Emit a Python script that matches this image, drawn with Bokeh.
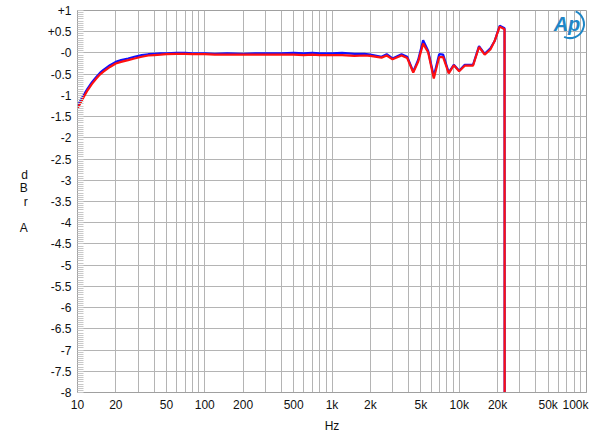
import numpy as np
from bokeh.plotting import figure
from bokeh.models import FixedTicker, Label
from bokeh.embed import file_html
from bokeh.resources import INLINE

# ---- data ----
freq_hz = [10, 11, 12, 13, 14, 15, 16, 18, 20, 22, 25, 28, 32, 36, 40, 45, 50, 60, 70, 80,
           90, 100, 120, 150, 200, 250, 300, 400, 500, 600, 700, 800, 1000, 1200, 1500,
           1800, 2000, 2450, 2690, 2990, 3520, 3900, 4350, 4760, 5200, 5690, 6310, 6950,
           7470, 8270, 9060, 9980, 11050, 12830, 14300, 15850, 17570, 18970, 20780, 22700,
           22900]

left_dbr = [-1.25, -1.03, -0.84, -0.69, -0.57, -0.47, -0.40, -0.29, -0.21, -0.17, -0.13,
            -0.09, -0.05, -0.03, -0.02, -0.01, -0.01, 0.0, 0.0, -0.01, -0.01, -0.01, -0.02,
            -0.01, -0.02, -0.01, -0.01, -0.01, 0.0, -0.01, 0.0, -0.01, -0.01, 0.0, -0.02,
            -0.02, -0.04, -0.09, -0.03, -0.13, -0.03, -0.09, -0.44, -0.16, 0.30, 0.05,
            -0.55, -0.03, -0.04, -0.46, -0.28, -0.42, -0.28, -0.28, 0.16, -0.02, 0.11,
            0.28, 0.64, 0.58, -40.0]

right_dbr = [-1.31, -1.08, -0.88, -0.73, -0.61, -0.51, -0.44, -0.33, -0.25, -0.21, -0.17,
             -0.13, -0.09, -0.06, -0.05, -0.04, -0.03, -0.02, -0.02, -0.03, -0.03, -0.03,
             -0.04, -0.04, -0.04, -0.04, -0.04, -0.04, -0.04, -0.05, -0.04, -0.05, -0.05,
             -0.05, -0.07, -0.06, -0.07, -0.11, -0.06, -0.15, -0.06, -0.12, -0.46, -0.20,
             0.22, 0.02, -0.60, -0.10, -0.10, -0.48, -0.29, -0.43, -0.30, -0.30, 0.14,
             -0.04, 0.08, 0.28, 0.62, 0.56, -40.0]

x_tick_values = [10, 20, 50, 100, 200, 500, 1000, 2000, 5000, 10000, 20000, 50000, 100000]
x_tick_labels = ["10", "20", "50", "100", "200", "500", "1k", "2k", "5k", "10k", "20k",
                 "50k", "100k"]
# the reference pulls its last label leftwards so that it fits inside the chart
x_label_positions = [10, 20, 50, 100, 200, 500, 1000, 2000, 5000, 10000, 20000, 50000, 82000]

y_tick_values = [1, 0.5, 0, -0.5, -1, -1.5, -2, -2.5, -3, -3.5, -4, -4.5, -5, -5.5, -6,
                 -6.5, -7, -7.5, -8]
y_tick_labels = ["+1", "+0.5", "-0", "-0.5", "-1", "-1.5", "-2", "-2.5", "-3", "-3.5", "-4",
                 "-4.5", "-5", "-5.5", "-6", "-6.5", "-7", "-7.5", "-8"]

FONT = "Liberation Sans"

p = figure(width=596, height=435, x_axis_type="log", x_range=(10, 100000),
           y_range=(-8, 1), output_backend="svg", toolbar_location=None,
           min_border_left=77, min_border_right=10, min_border_top=10,
           min_border_bottom=42)
p.background_fill_color = "white"
p.border_fill_color = "white"
p.outline_line_color = "#a0a0a0"

# grids
grid_x = [m * 10 ** k for k in range(1, 5) for m in range(1, 10)] + [100000]
p.xgrid.ticker = FixedTicker(ticks=grid_x)
p.ygrid.ticker = FixedTicker(ticks=y_tick_values)
for g in (p.xgrid, p.ygrid):
    g.grid_line_color = "#b4b4b4"
    g.grid_line_width = 1

# x axis
xa = p.xaxis[0]
xa.ticker = FixedTicker(ticks=x_label_positions, minor_ticks=[])
xa.major_label_overrides = {pos: lab for pos, lab in zip(x_label_positions, x_tick_labels)}
xa.major_tick_in = 0
xa.major_tick_out = 0
xa.minor_tick_in = 0
xa.minor_tick_out = 0
xa.axis_line_color = "#a0a0a0"
xa.major_label_standoff = 5
xa.major_label_text_font = FONT
xa.major_label_text_font_size = "12px"
xa.major_label_text_color = "#111111"
xa.axis_label = "Hz"
xa.axis_label_text_font = FONT
xa.axis_label_text_font_size = "12px"
xa.axis_label_text_font_style = "normal"
xa.axis_label_text_color = "#111111"
xa.axis_label_standoff = 4

# y axis
ya = p.yaxis[0]
minor_y = [round(-8 + 0.05 * i, 2) for i in range(181)]
ya.ticker = FixedTicker(ticks=y_tick_values, minor_ticks=minor_y)
ya.major_label_overrides = {v: lab for v, lab in zip(y_tick_values, y_tick_labels)}
ya.major_tick_in = 0
ya.major_tick_out = 0
ya.minor_tick_in = 6
ya.minor_tick_out = 0
ya.minor_tick_line_color = "#c8c8c8"
ya.axis_line_color = "#a0a0a0"
ya.major_label_standoff = 6
ya.major_label_text_font = FONT
ya.major_label_text_font_size = "12px"
ya.major_label_text_color = "#111111"
ya.axis_label = "d\nB\nr\n\nA"
ya.axis_label_orientation = "horizontal"
ya.axis_label_text_font = FONT
ya.axis_label_text_font_size = "12px"
ya.axis_label_text_font_style = "normal"
ya.axis_label_text_color = "#111111"
ya.axis_label_text_line_height = 0.95
ya.axis_label_standoff = 17

# traces
p.line(freq_hz, left_dbr, line_color="#1010ff", line_width=2.2)
p.line(freq_hz, right_dbr, line_color="#ff1010", line_width=2.2)

# Ap logo (decoration)
logo_x, logo_y = 10 ** 4.87, 0.68
p.add_layout(Label(x=logo_x, y=logo_y, text="Ap", text_font=FONT, text_font_size="20px",
                   text_font_style="bold italic", text_color="#1f86c6",
                   text_align="center", text_baseline="middle", x_offset=-3))
p.arc(x=[logo_x], y=[logo_y], radius=14, radius_units="screen",
      start_angle=-2.0, end_angle=1.15, line_color="#1f86c6", line_width=2)

open("out.html", "w").write(file_html(p, INLINE))
